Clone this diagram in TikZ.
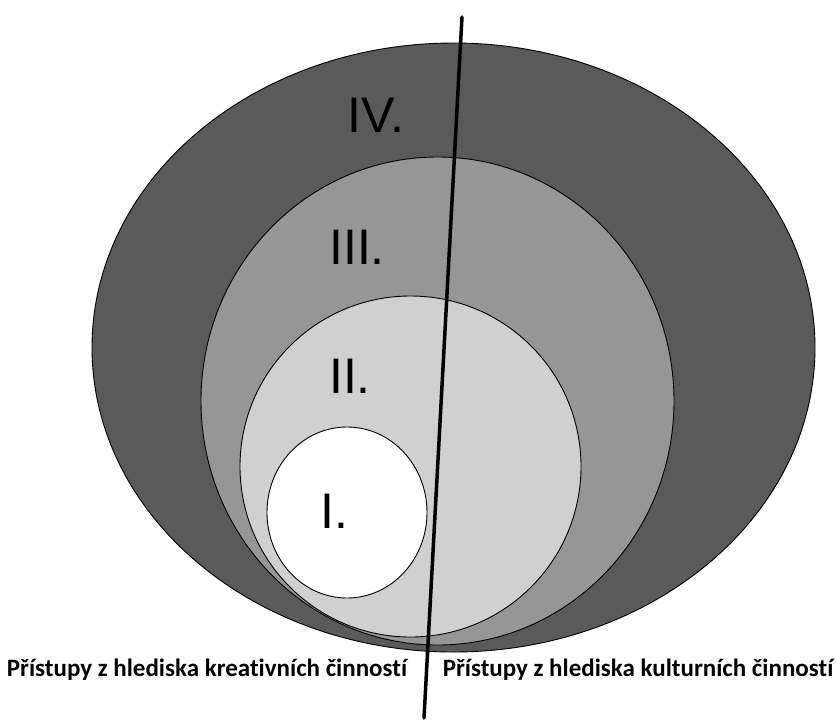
\documentclass[tikz,border=0pt]{standalone}
\usepackage{fontspec}
\setmainfont{Liberation Sans}
\newfontfamily\sidefont[Ligatures=NoCommon]{Carlito}
\definecolor{ringcolor0001}{RGB}{90,90,90}
\definecolor{ringcolor0002}{RGB}{150,150,150}
\definecolor{ringcolor0003}{RGB}{208,208,208}
\begin{document}
\begin{tikzpicture}[yscale=-1
,rstyle0/.style={color=black,fill=ringcolor0001,line width=0.9pt}
,rstyle1/.style={color=black,fill=ringcolor0002,line width=0.9pt}
,rstyle2/.style={color=black,fill=ringcolor0003,line width=0.9pt}
,rstyle3/.style={color=black,fill=white,line width=0.9pt}
,lstyle0/.style={color=black,line width=3.5pt,line cap=round}
,tstyle0/.style={color=black,inner sep=0pt,font=\fontsize{50}{60}\selectfont}
,tstyle1/.style={color=black,inner sep=0pt,font=\sidefont\bfseries\fontsize{25}{30}\selectfont}
]
\useasboundingbox (0pt,0pt) rectangle (836pt,724pt);
\draw[rstyle0] (453.5pt,347.5pt) ellipse [x radius=361.5pt,y radius=304.5pt];
\draw[rstyle1] (437.5pt,401pt) ellipse [x radius=236.5pt,y radius=244pt];
\draw[rstyle2] (410.5pt,466.5pt) ellipse [x radius=170.5pt,y radius=170.5pt];
\draw[rstyle3] (347pt,512.5pt) ellipse [x radius=80pt,y radius=85.5pt];
\coordinate (divtop) at (462pt,17pt);
\coordinate (divbot) at (424pt,718pt);
\draw[lstyle0] (divtop) -- (divbot);
\node (lblfour) at (376pt,115pt)[tstyle0]{IV.};
\node (lblthree) at (357pt,247pt)[tstyle0]{III.};
\node (lbltwo) at (350pt,376pt)[tstyle0]{II.};
\node (lblone) at (334pt,511pt)[tstyle0]{I.};
\node (creative) at (207pt,670pt)[tstyle1]{Přístupy z hlediska kreativních činností};
\node (cultural) at (638pt,670pt)[tstyle1]{Přístupy z hlediska kulturních činností};
\end{tikzpicture}
\end{document}
